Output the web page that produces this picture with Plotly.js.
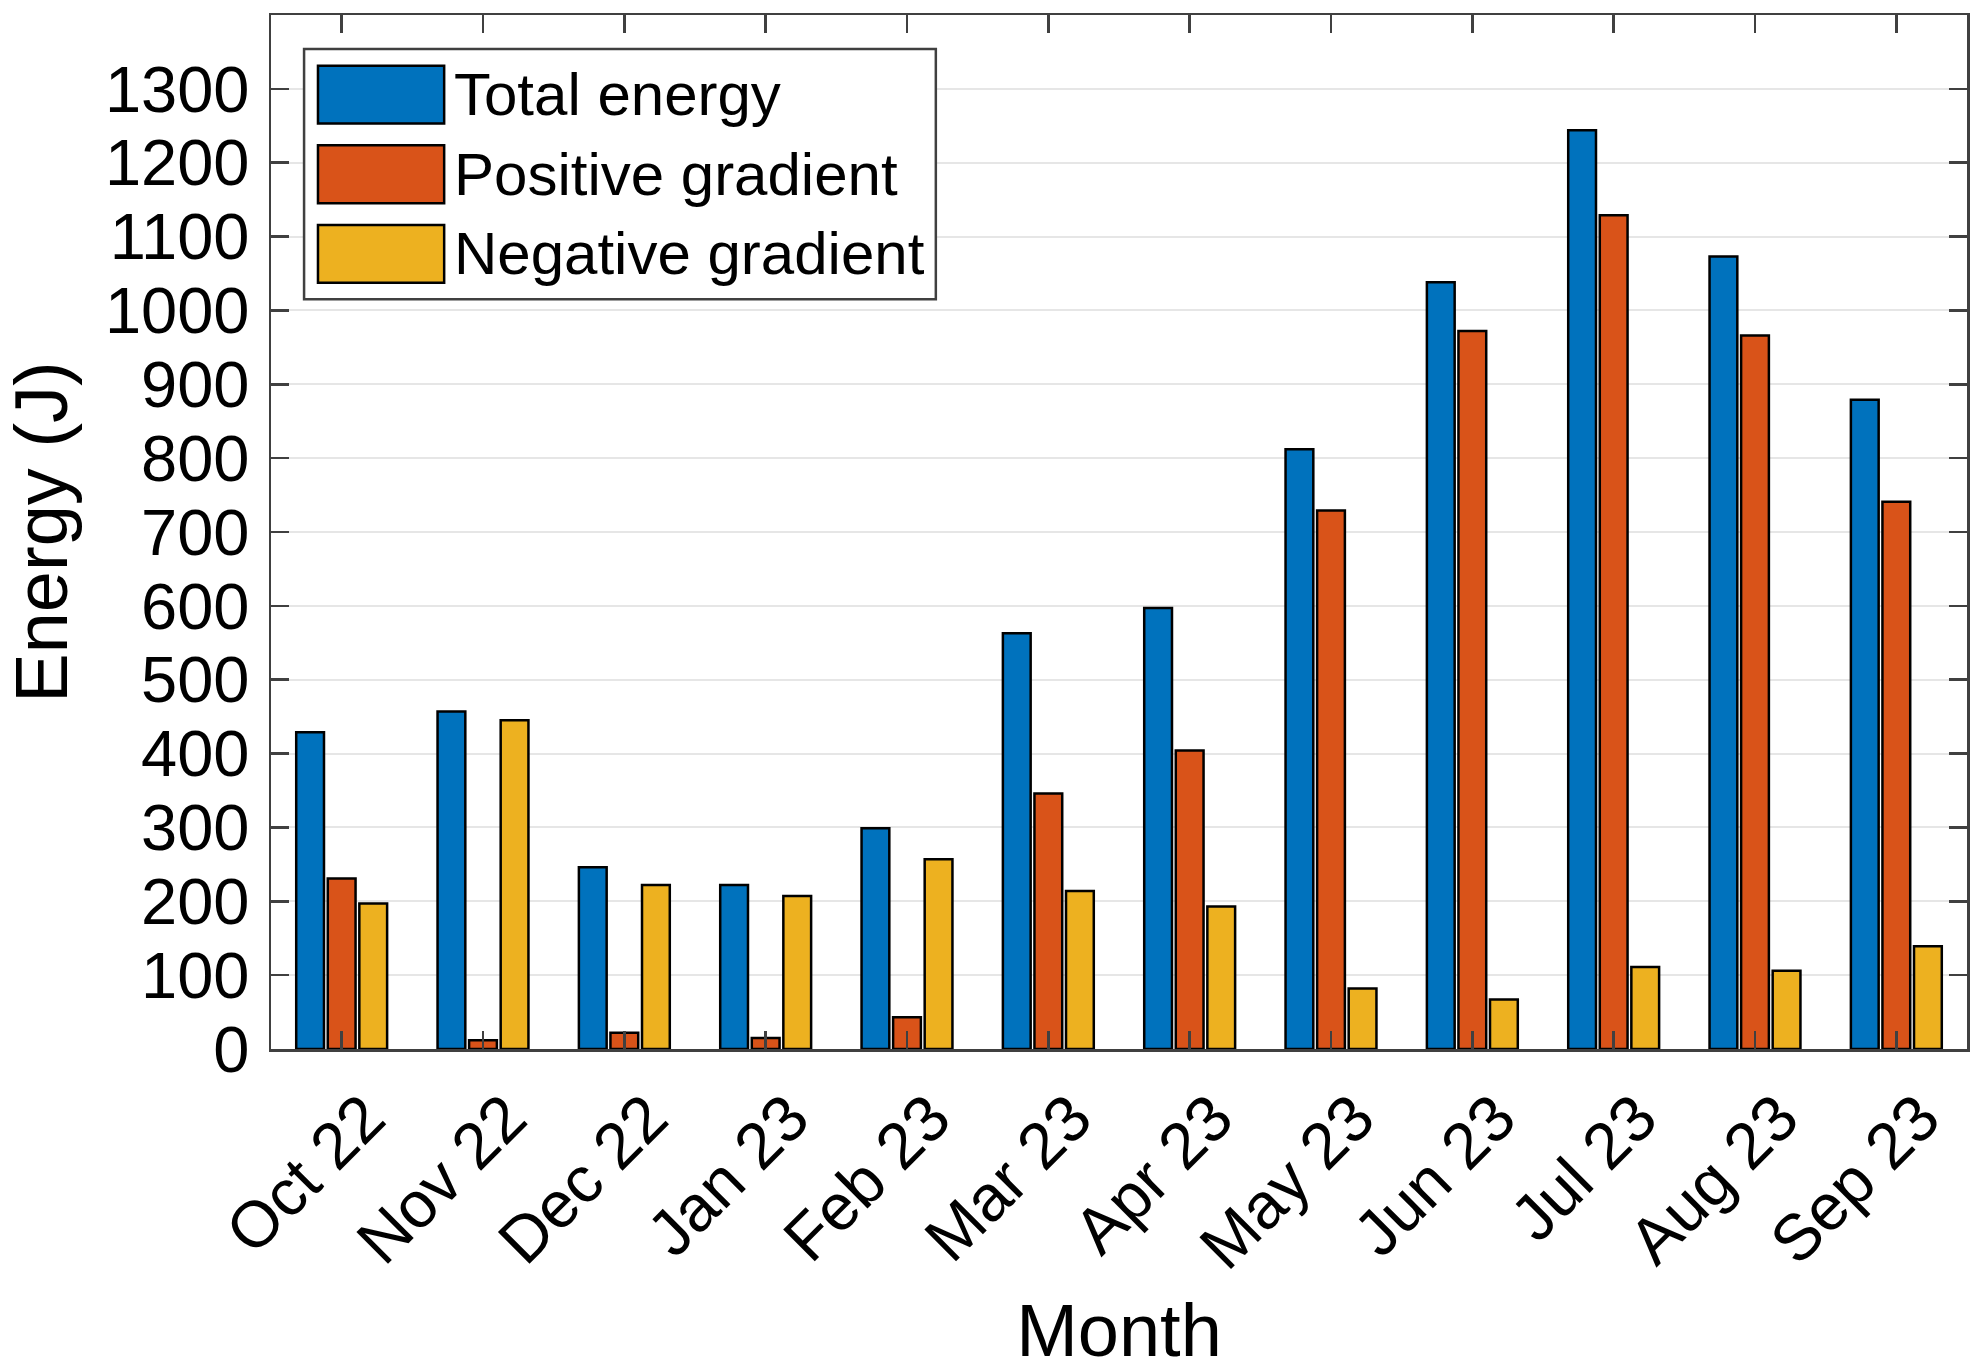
<!DOCTYPE html>
<html>
<head>
<meta charset="utf-8">
<script src="https://cdn.plot.ly/plotly-3.0.1.min.js"></script>
<style>
html,body{margin:0;padding:0;background:#fff;}
#chart{width:1980px;height:1372px;}
</style>
</head>
<body>
<div id="chart"></div>
<script>
var months = ["Oct 22","Nov 22","Dec 22","Jan 23","Feb 23","Mar 23","Apr 23","May 23","Jun 23","Jul 23","Aug 23","Sep 23"];
var totalEnergy = [429, 457, 246, 222, 299, 563, 597, 812, 1038, 1244, 1073, 879];
var positiveGradient = [231, 12, 22, 15, 43, 346, 404, 729, 972, 1129, 966, 741];
var negativeGradient = [197, 445, 222, 207, 257, 214, 193, 82, 67, 111, 106, 139];
var seriesNames = ["Total energy", "Positive gradient", "Negative gradient"];
var yTicks = [0,100,200,300,400,500,600,700,800,900,1000,1100,1200,1300];

var colors = ["#0072BD", "#D95319", "#EDB120"];
var font = "Liberation Sans, Arial, Helvetica, sans-serif";
var axisColor = "#404040";

var seriesValues = [totalEnergy, positiveGradient, negativeGradient];
var traces = seriesValues.map(function(vals, i){
  return {
    type: "bar",
    x: months,
    y: vals,
    name: seriesNames[i],
    showlegend: false,
    marker: {color: colors[i], line: {color: "#000000", width: 2.5}},
    hoverinfo: "x+y+name"
  };
});

// custom legend (paper coordinates)
var shapes = [];
var annotations = [];
shapes.push({type:"rect", xref:"paper", yref:"paper", x0:0.0195, x1:0.392, y0:0.725, y1:0.967,
  line:{color:axisColor, width:2.5}, fillcolor:"#ffffff", layer:"above"});
var rowTop = [0.951, 0.874, 0.797];
var rowH = 0.056;
for (var i = 0; i < 3; i++) {
  shapes.push({type:"rect", xref:"paper", yref:"paper", x0:0.0277, x1:0.1021,
    y0:rowTop[i]-rowH, y1:rowTop[i], line:{color:"#000000", width:2.5}, fillcolor:colors[i], layer:"above"});
  annotations.push({xref:"paper", yref:"paper", x:0.1065, y:rowTop[i]-rowH/2, xanchor:"left", yanchor:"middle",
    text: seriesNames[i], showarrow:false, font:{family:font, size:60, color:"#000000"}});
}

var layout = {
  width: 1980, height: 1372,
  margin: {l:271, r:13, t:15, b:323, pad:0},
  paper_bgcolor: "#ffffff", plot_bgcolor: "#ffffff",
  font: {family: font, color: "#000000"},
  barmode: "group",
  bargap: 0.33,
  bargroupgap: 0.12,
  xaxis: {
    type: "category",
    range: [-0.5, 11.5],
    showline: true, linecolor: axisColor, linewidth: 2.5,
    mirror: "ticks",
    ticks: "inside", ticklen: 18, tickwidth: 2.5, tickcolor: axisColor,
    tickangle: -45,
    tickfont: {family: font, size: 65, color: "#000000"},
    ticklabelshift: 24,
    ticklabelstandoff: 2,
    showgrid: false, zeroline: false,
    title: {text: "Month", font: {family: font, size: 74, color: "#000000"}, standoff: 44}
  },
  yaxis: {
    range: [0, 1400],
    tickmode: "array", tickvals: yTicks, ticktext: yTicks.map(String),
    showline: true, linecolor: axisColor, linewidth: 2.5,
    mirror: "ticks",
    ticks: "inside", ticklen: 18, tickwidth: 2.5, tickcolor: axisColor,
    tickfont: {family: font, size: 65, color: "#000000"},
    ticklabelstandoff: 6,
    showgrid: true, gridcolor: "#e6e6e6", gridwidth: 2,
    zeroline: false,
    title: {text: "Energy (J)", font: {family: font, size: 74, color: "#000000"}, standoff: 14}
  },
  shapes: shapes,
  annotations: annotations
};

Plotly.newPlot("chart", traces, layout, {displayModeBar: false, staticPlot: true});
</script>
</body>
</html>
